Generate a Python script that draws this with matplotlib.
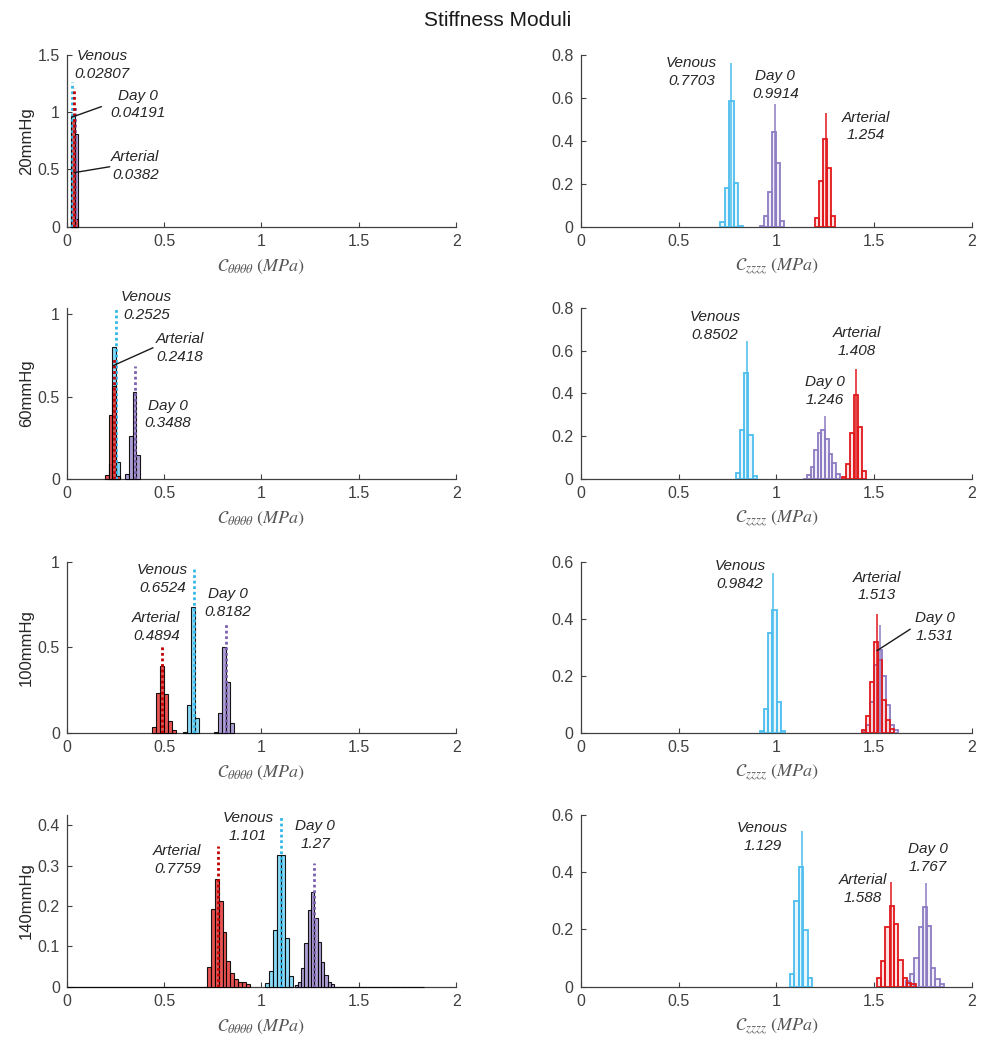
import numpy as np
import matplotlib
matplotlib.use("Agg")
import matplotlib.pyplot as plt

plt.rcParams['font.family'] = ['Liberation Sans', 'DejaVu Sans']
plt.rcParams['mathtext.fontset'] = 'stix'

# ---------------- data ----------------
pressures = ['20mmHg', '60mmHg', '100mmHg', '140mmHg']
groups = ['Venous', 'Day 0', 'Arterial']

# medians (theta-theta component, left column)
venous_theta_values = [0.02807, 0.2525, 0.6524, 1.101]
day0_theta_values = [0.04191, 0.3488, 0.8182, 1.27]
arterial_theta_values = [0.0382, 0.2418, 0.4894, 0.7759]
# medians (z-z component, right column)
venous_z_values = [0.7703, 0.8502, 0.9842, 1.129]
day0_z_values = [0.9914, 1.246, 1.531, 1.767]
arterial_z_values = [1.254, 1.408, 1.513, 1.588]

# histograms: first bin edge, bin width, probabilities per bin
venous_theta_start = [0.02, 0.215, 0.598, 1.02]
venous_theta_width = [0.02, 0.02, 0.0203, 0.02]
venous_theta_probs = [
    [0.97, 0.03],
    [0.095, 0.80, 0.105],
    [0.008, 0.165, 0.735, 0.09],
    [0.01, 0.04, 0.14, 0.327, 0.325, 0.12, 0.027],
]
day0_theta_start = [0.02, 0.298, 0.757, 1.17]
day0_theta_width = [0.02, 0.02, 0.0205, 0.017]
day0_theta_probs = [
    [0.19, 0.81],
    [0.035, 0.26, 0.53, 0.15],
    [0.005, 0.12, 0.5, 0.3, 0.058],
    [0.005, 0.011, 0.047, 0.109, 0.19, 0.235, 0.171, 0.11, 0.061, 0.029,
     0.012, 0.006] + [0.0] * 27,
]
arterial_theta_start = [0.02, 0.195, 0.438, 0.0]
arterial_theta_width = [0.02, 0.02, 0.0205, 0.02]
arterial_theta_probs = [
    [0.93, 0.07],
    [0.024, 0.388, 0.565, 0.02],
    [0.035, 0.235, 0.39, 0.23, 0.07, 0.02],
    [0.0] * 36 + [0.049, 0.193, 0.267, 0.213, 0.135, 0.063, 0.033, 0.019,
                  0.011, 0.011, 0.006],
]

venous_z_start = [0.712, 0.794, 0.917, 1.068]
venous_z_width = [0.023, 0.021, 0.021, 0.023]
venous_z_probs = [
    [0.02, 0.178, 0.587, 0.205, 0.005],
    [0.031, 0.228, 0.496, 0.207, 0.017],
    [0.008, 0.085, 0.35, 0.431, 0.111, 0.008],
    [0.043, 0.298, 0.418, 0.197, 0.031],
]
day0_z_start = [0.915, 1.138, 1.44, 1.662]
day0_z_width = [0.021, 0.0185, 0.02, 0.0215]
day0_z_probs = [
    [0.005, 0.05, 0.16, 0.44, 0.298, 0.028],
    [0.002, 0.02, 0.058, 0.135, 0.215, 0.228, 0.187, 0.119, 0.078, 0.023],
    [0.005, 0.03, 0.11, 0.24, 0.29, 0.2, 0.1, 0.03, 0.01],
    [0.02, 0.046, 0.1, 0.209, 0.279, 0.212, 0.067, 0.027, 0.009],
]
arterial_z_start = [1.196, 1.334, 1.44, 1.513]
arterial_z_width = [0.021, 0.021, 0.02, 0.022]
arterial_z_probs = [
    [0.042, 0.213, 0.407, 0.275, 0.051],
    [0.012, 0.07, 0.218, 0.395, 0.246, 0.039],
    [0.01, 0.06, 0.18, 0.32, 0.255, 0.115, 0.045, 0.015],
    [0.029, 0.089, 0.209, 0.282, 0.218, 0.093, 0.029, 0.014, 0.009],
]

x_ticks = [0, 0.5, 1, 1.5, 2]
x_tick_labels = ['0', '0.5', '1', '1.5', '2']
left_ylims = [1.5, 1.04, 1.0, 0.425]
left_yticks = [[0, 0.5, 1, 1.5], [0, 0.5, 1], [0, 0.5, 1], [0, 0.1, 0.2, 0.3, 0.4]]
left_yticklabels = [['0', '0.5', '1', '1.5'], ['0', '0.5', '1'], ['0', '0.5', '1'],
                    ['0', '0.1', '0.2', '0.3', '0.4']]
right_ylims = [0.8, 0.8, 0.6, 0.6]
right_yticks = [[0, 0.2, 0.4, 0.6, 0.8], [0, 0.2, 0.4, 0.6, 0.8], [0, 0.2, 0.4, 0.6], [0, 0.2, 0.4, 0.6]]
right_yticklabels = [['0', '0.2', '0.4', '0.6', '0.8'], ['0', '0.2', '0.4', '0.6', '0.8'],
                     ['0', '0.2', '0.4', '0.6'], ['0', '0.2', '0.4', '0.6']]

# ---------------- layout / styles ----------------
# label positions (x, y) in data units for [Venous, Day 0, Arterial]
left_label_pos = [
    [(0.18, 1.413), (0.366, 1.068), (0.352, 0.527)],
    [(0.41, 1.05), (0.519, 0.393), (0.579, 0.797)],
    [(0.491, 0.90), (0.826, 0.76), (0.46, 0.617)],
    [(0.93, 0.396), (1.277, 0.376), (0.568, 0.314)],
]
right_label_pos = [
    [(0.567, 0.72), (0.995, 0.659), (1.459, 0.467)],
    [(0.687, 0.714), (1.249, 0.412), (1.411, 0.64)],
    [(0.815, 0.554), (1.811, 0.371), (1.514, 0.513)],
    [(0.930, 0.524), (1.772, 0.451), (1.440, 0.341)],
]
# leader lines: (col, row, start, end)
leaders = [
    (0, 0, (0.178, 1.049), (0.025, 0.956)),
    (0, 0, (0.221, 0.524), (0.037, 0.472)),
    (0, 1, (0.443, 0.797), (0.239, 0.689)),
    (1, 2, (1.684, 0.364), (1.514, 0.289)),
]

line_colors = {'Venous': '#33B7E8', 'Day 0': '#7C5FAE', 'Arterial': '#C00000'}
fill_colors = {'Venous': '#7DD6F4', 'Day 0': '#A595CF', 'Arterial': '#E4403F'}
edge_colors = {'Venous': '#4DBEEE', 'Day 0': '#8E7CC3', 'Arterial': '#E0191C'}
axis_color = '#404040'
text_color = '#262626'

fig = plt.figure(figsize=(9.96, 10.5), dpi=100)
fig.suptitle('Stiffness Moduli', y=1 - 20 / 1050, fontsize=15, va='center', color='#1a1a1a')

col_x = [0.067, 0.583]
col_w = [0.391, 0.393]
row_b = [0.7841, 0.5435, 0.3016, 0.0603]
row_h = 0.1635

theta_sets = {
    'Venous': (venous_theta_start, venous_theta_width, venous_theta_probs, venous_theta_values),
    'Day 0': (day0_theta_start, day0_theta_width, day0_theta_probs, day0_theta_values),
    'Arterial': (arterial_theta_start, arterial_theta_width, arterial_theta_probs, arterial_theta_values),
}
z_sets = {
    'Venous': (venous_z_start, venous_z_width, venous_z_probs, venous_z_values),
    'Day 0': (day0_z_start, day0_z_width, day0_z_probs, day0_z_values),
    'Arterial': (arterial_z_start, arterial_z_width, arterial_z_probs, arterial_z_values),
}

axes = [[None, None] for _ in range(4)]
for r in range(4):
    for c in range(2):
        ax = fig.add_axes([col_x[c], row_b[r], col_w[c], row_h])
        axes[r][c] = ax
        sets = theta_sets if c == 0 else z_sets
        for gi, g in enumerate(groups):
            start, width, probs, values = sets[g]
            p = np.array(probs[r])
            edges = start[r] + width[r] * np.arange(len(p))
            if c == 0:
                bars = ax.bar(edges, p, width=width[r], align='edge', color=fill_colors[g],
                              alpha=0.9, edgecolor='black', linewidth=0.8, zorder=3 + gi)
                for b in bars:
                    b.set_clip_on(False)
            else:
                ax.bar(edges, p, width=width[r], align='edge', color=edge_colors[g],
                       alpha=0.12, linewidth=0, zorder=3 + gi)
                ax.bar(edges, p, width=width[r], align='edge', fill=False,
                       edgecolor=edge_colors[g], linewidth=1.3, zorder=3 + gi)
        # median markers
        for gi, g in enumerate(groups):
            start, width, probs, values = sets[g]
            top = 1.3 * max(probs[r])
            if c == 0:
                ax.vlines(values[r], 0, top, colors=line_colors[g], linestyles=(0, (1, 1)),
                          linewidth=2.0, zorder=10)
            else:
                ax.vlines(values[r], 0, top, colors=edge_colors[g], linewidth=1.3,
                          alpha=0.85, zorder=10)
        # labels
        positions = left_label_pos[r] if c == 0 else right_label_pos[r]
        for gi, g in enumerate(groups):
            values = sets[g][3]
            x, y = positions[gi]
            ax.text(x, y, f"{g}\n{values[r]:.4g}", ha='center', va='center',
                    fontsize=11, style='italic', color=text_color, linespacing=1.35,
                    zorder=12)

        ax.set_xlim(0, 2)
        if c == 0:
            ax.set_ylim(0, left_ylims[r])
            ax.set_yticks(left_yticks[r])
            ax.set_yticklabels(left_yticklabels[r])
            ax.set_ylabel(pressures[r], fontsize=12, color=text_color, va='center')
            ax.yaxis.set_label_coords(-40 / 389, 0.5)
            xl = r'$\mathcal{C}_{\theta\theta\theta\theta}\ \mathit{(MPa)}$'
        else:
            ax.set_ylim(0, right_ylims[r])
            ax.set_yticks(right_yticks[r])
            ax.set_yticklabels(right_yticklabels[r])
            xl = r'$\mathcal{C}_{zzzz}\ \mathit{(MPa)}$'
        ax.set_xticks(x_ticks)
        ax.set_xticklabels(x_tick_labels)
        ax.set_xlabel(xl, fontsize=13, color='#555555', va='center')
        ax.xaxis.set_label_coords(0.5, -40 / 171.5)
        for s in ['top', 'right']:
            ax.spines[s].set_visible(False)
        for s in ['left', 'bottom']:
            ax.spines[s].set_color(axis_color)
            ax.spines[s].set_linewidth(0.9)
            ax.spines[s].set_zorder(1)
        ax.tick_params(direction='in', length=3.5, width=0.8, colors=axis_color,
                       labelsize=11.5, labelcolor=axis_color, pad=5)
        ax.set_facecolor('none')

for (c, r, start, end) in leaders:
    axes[r][c].annotate('', xy=end, xytext=start,
                        arrowprops=dict(arrowstyle='-', color='#1a1a1a', lw=1.0,
                                        shrinkA=0, shrinkB=0), zorder=13)

fig.savefig('out.png', dpi=100)
